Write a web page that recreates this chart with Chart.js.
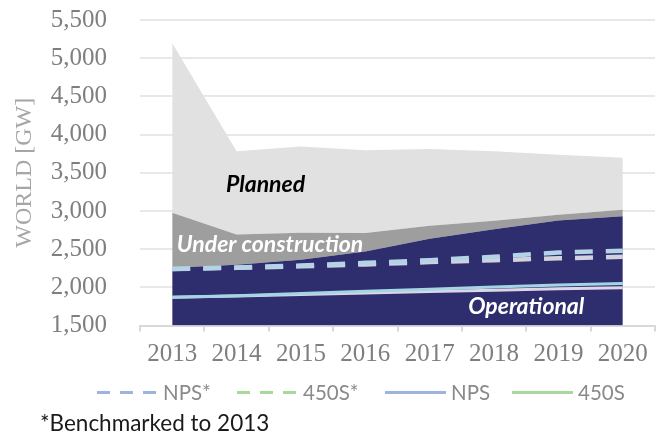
<!DOCTYPE html>
<html><head><meta charset="utf-8">
<script src="https://cdn.jsdelivr.net/npm/chart.js@4.4.1/dist/chart.umd.min.js"></script>
<style>
html,body{margin:0;padding:0;background:#fff}
#wrap{position:relative;width:668px;height:439px;overflow:hidden}
#chart{position:absolute;left:0;top:0}
.item{position:absolute;top:380px;height:24px;display:flex;align-items:center;font-family:Lato,sans-serif;font-size:20.5px;color:#8a8a8a;white-space:nowrap}
.swatch{width:61px;height:3px;margin-right:5px}
#note{position:absolute;left:40px;top:409px;font-family:Lato,sans-serif;font-size:22.5px;color:#1a1a1a}
</style></head>
<body>
<div id="wrap">
<canvas id="chart" width="668" height="439"></canvas>
<div id="note">*Benchmarked to 2013</div>
</div>
<script>
// values (GW)
const years=["2013","2014","2015","2016","2017","2018","2019","2020"];
const operational=[2255,2295,2360,2470,2635,2760,2875,2930];
const underConstruction=[720,395,355,240,170,110,75,85];
const planned=[2225,1090,1130,1085,1005,910,785,680];
const npsBench=[2240,2260,2285,2320,2355,2400,2455,2480];
const s450Bench=[2240,2255,2275,2300,2330,2355,2380,2400];
const nps=[1870,1890,1920,1950,1975,2005,2030,2050];
const s450=[1870,1885,1905,1925,1945,1960,1980,1995];
const yMin=1500,yMax=5500,yStep=500;

const legendItems=[
{label:"NPS*",color:"#9bb4e0",dashed:true},
{label:"450S*",color:"#a6d99a",dashed:true},
{label:"NPS",color:"#9bb4e0",dashed:false},
{label:"450S",color:"#a6d99a",dashed:false}
];
const legendLeft=[97,237,385,512];

// text written inside the areas, placed in data units
const notes=[
{text:"Planned",x:1.45,y:3345,color:"#000",align:"center"},
{text:"Under construction",x:0.07,y:2555,color:"#fff",align:"left"},
{text:"Operational",x:5.5,y:1745,color:"#fff",align:"center"}
];

const areaText={id:"areaText",afterDatasetsDraw(c){
const xs=c.scales.x,ys=c.scales.y,g=c.ctx;
g.save();
g.font="italic bold 23px Lato, sans-serif";
g.textBaseline="middle";
notes.forEach(n=>{
g.fillStyle=n.color;g.textAlign=n.align;
g.fillText(n.text,xs.getPixelForValue(n.x),ys.getPixelForValue(n.y));
});
g.restore();
}};

const wrap=document.getElementById("wrap");
legendItems.forEach((it,i)=>{
const bg=it.dashed?`repeating-linear-gradient(90deg,${it.color} 0 13px,transparent 13px 23px)`:it.color;
const d=document.createElement("div");
d.className="item";d.style.left=legendLeft[i]+"px";
d.innerHTML=`<div class="swatch" style="background:${bg}"></div><span>${it.label}</span>`;
wrap.appendChild(d);
});

function area(label,data,color,fill){
return {label,data,backgroundColor:color,borderWidth:0,pointRadius:0,fill,stack:"cap",order:1};
}
function line(label,data,color,w,dash,st){
return {label,data,borderColor:color,borderWidth:w,borderDash:dash,pointRadius:0,fill:false,stack:st,order:0};
}

new Chart(document.getElementById("chart"),{
type:"line",
data:{labels:years,datasets:[
area("Operational",operational,"#2e2d6e","origin"),
area("Under construction",underConstruction,"#9e9e9e","-1"),
area("Planned",planned,"#e1e1e1","-1"),
line("NPS",nps,"#a3d5e4",3,[],"a"),
line("450S",s450,"#ddd6e6",3,[],"b"),
line("NPS*",npsBench,"#b3d3e6",4.5,[18,13],"c"),
line("450S*",s450Bench,"#d2d2de",4.5,[18,13],"d")
]},
options:{
responsive:false,animation:false,
layout:{padding:{top:20,right:13,bottom:0,left:0}},
plugins:{legend:{display:false},tooltip:{enabled:false}},
elements:{line:{tension:0}},
scales:{
x:{offset:true,
grid:{offset:true,drawOnChartArea:false,color:"#d9d9d9",lineWidth:2,tickLength:6},
border:{color:"#d9d9d9",width:2},
ticks:{color:"#7f7f7f",font:{family:"Liberation Serif",size:25},padding:8,maxRotation:0},
afterFit(s){s.height=113.5}},
y:{stacked:true,min:yMin,max:yMax,
ticks:{stepSize:yStep,color:"#7f7f7f",font:{family:"Liberation Serif",size:25},padding:4,callback:v=>v.toLocaleString("en-US")},
grid:{color:"#e8e8e8",lineWidth:2,drawTicks:true,tickLength:29,tickColor:"rgba(0,0,0,0)"},
border:{display:false},
title:{display:true,text:"WORLD [GW]",color:"#a6a6a6",font:{family:"Liberation Serif",size:24},padding:{top:10}},
afterFit(s){s.width=140}}
}},
plugins:[areaText]
});
</script>
</body></html>
